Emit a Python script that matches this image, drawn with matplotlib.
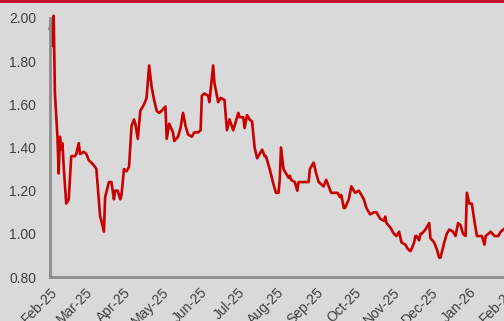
import matplotlib
matplotlib.use("Agg")
import matplotlib.pyplot as plt
import matplotlib.dates as mdates
import pandas as pd

# Day offsets from 1 Feb 2025 and the values
start_date = "2025-02-01"
day_offsets = [
    0, 1, 2, 3, 4, 6, 7, 8, 9, 10, 11, 13, 15, 17, 20, 21, 23, 24, 27, 29,
    31, 33, 36, 37, 40, 41, 43, 44, 47, 49, 51, 52, 54, 56, 57, 59, 61, 63, 65, 67,
    68, 70, 72, 75, 77, 79, 81, 83, 85, 87, 89, 92, 93, 95, 98, 99, 102, 104, 106, 108,
    110, 113, 115, 118, 120, 121, 123, 126, 127, 130, 131, 134, 136, 139, 141, 143, 146, 150, 151, 154,
    155, 157, 159, 161, 163, 165, 167, 169, 171, 172, 175, 178, 180, 182, 183, 184, 186, 188, 190, 191,
    192, 195, 197, 198, 202, 206, 207, 210, 212, 214, 216, 218, 220, 222, 224, 227, 229, 231, 232, 234,
    235, 238, 240, 243, 246, 247, 250, 252, 255, 258, 260, 263, 266, 267, 268, 271, 274, 276, 278, 280,
    283, 285, 287, 288, 290, 291, 292, 294, 295, 296, 299, 300, 302, 303, 306, 308, 310, 311, 314, 316,
    318, 321, 323, 325, 327, 329, 331, 332, 334, 336, 338, 340, 343, 344, 346, 347, 351, 354, 357, 359,
    363,
]
values = [
    1.95, 1.98, 1.87, 2.01, 1.65, 1.45, 1.28, 1.45, 1.39, 1.42, 1.31, 1.14, 1.16, 1.36, 1.36, 1.37, 1.42, 1.37, 1.38, 1.37,
    1.34, 1.33, 1.31, 1.30, 1.08, 1.06, 1.01, 1.17, 1.24, 1.24, 1.16, 1.20, 1.20, 1.16, 1.18, 1.30, 1.29, 1.31, 1.50, 1.53,
    1.51, 1.44, 1.57, 1.60, 1.63, 1.78, 1.68, 1.62, 1.57, 1.56, 1.57, 1.59, 1.44, 1.51, 1.47, 1.43, 1.45, 1.49, 1.56, 1.50,
    1.46, 1.45, 1.47, 1.47, 1.48, 1.64, 1.65, 1.64, 1.61, 1.78, 1.70, 1.61, 1.63, 1.62, 1.48, 1.53, 1.48, 1.56, 1.54, 1.54,
    1.49, 1.55, 1.53, 1.52, 1.40, 1.35, 1.37, 1.39, 1.36, 1.36, 1.30, 1.23, 1.19, 1.19, 1.25, 1.40, 1.30, 1.28, 1.26, 1.27,
    1.25, 1.24, 1.20, 1.24, 1.24, 1.24, 1.30, 1.33, 1.28, 1.24, 1.23, 1.22, 1.25, 1.22, 1.19, 1.19, 1.19, 1.17, 1.18, 1.12,
    1.12, 1.16, 1.22, 1.19, 1.20, 1.19, 1.16, 1.12, 1.09, 1.10, 1.10, 1.07, 1.06, 1.08, 1.05, 1.03, 1.00, 0.99, 1.01, 0.96,
    0.95, 0.93, 0.92, 0.93, 0.96, 0.99, 0.99, 0.97, 1.00, 1.00, 1.02, 1.03, 1.05, 0.98, 0.96, 0.93, 0.89, 0.89, 0.96, 1.00,
    1.02, 1.01, 0.99, 1.05, 1.04, 1.00, 0.99, 1.19, 1.14, 1.14, 1.06, 0.99, 0.99, 0.99, 0.95, 0.99, 1.01, 0.99, 0.99, 1.01,
    1.03,
]
y_ticks = [0.80, 1.00, 1.20, 1.40, 1.60, 1.80, 2.00]

dates = pd.Timestamp(start_date) + pd.to_timedelta(day_offsets, unit="D")

bg = "#d9d9d9"
plt.rcParams["font.family"] = ["Liberation Sans", "DejaVu Sans"]

fig = plt.figure(figsize=(5.04, 3.21), dpi=100, facecolor=bg)
ax = fig.add_axes([0.099, 0.137, 0.917, 0.807], facecolor=bg)

# red band along the top of the figure
fig.patches.append(plt.Rectangle((0, 0.99), 1, 0.01, transform=fig.transFigure,
                                 facecolor="#c41230", edgecolor="none"))

ax.plot(dates, values, color="#c80000", linewidth=1.9, clip_on=False,
        solid_joinstyle="round")

ax.set_ylim(0.80, 2.00)
ax.set_yticks(y_ticks)
ax.set_yticklabels([f"{v:.2f}" for v in y_ticks])
ax.set_xlim(pd.Timestamp("2025-02-01"), pd.Timestamp("2026-02-04"))
ax.xaxis.set_major_locator(mdates.MonthLocator())
ax.xaxis.set_major_formatter(mdates.DateFormatter("%b-%y"))

for side in ["top", "right"]:
    ax.spines[side].set_visible(False)
for side in ["left", "bottom"]:
    ax.spines[side].set_color("#8c8c8c")
    ax.spines[side].set_linewidth(2)

ax.tick_params(length=0, labelsize=10, labelcolor="#404040", pad=6)
ax.tick_params(axis="y", pad=10)
plt.setp(ax.get_xticklabels(), rotation=45, ha="right", rotation_mode="anchor")

fig.savefig("out.png", dpi=100, facecolor=bg)
